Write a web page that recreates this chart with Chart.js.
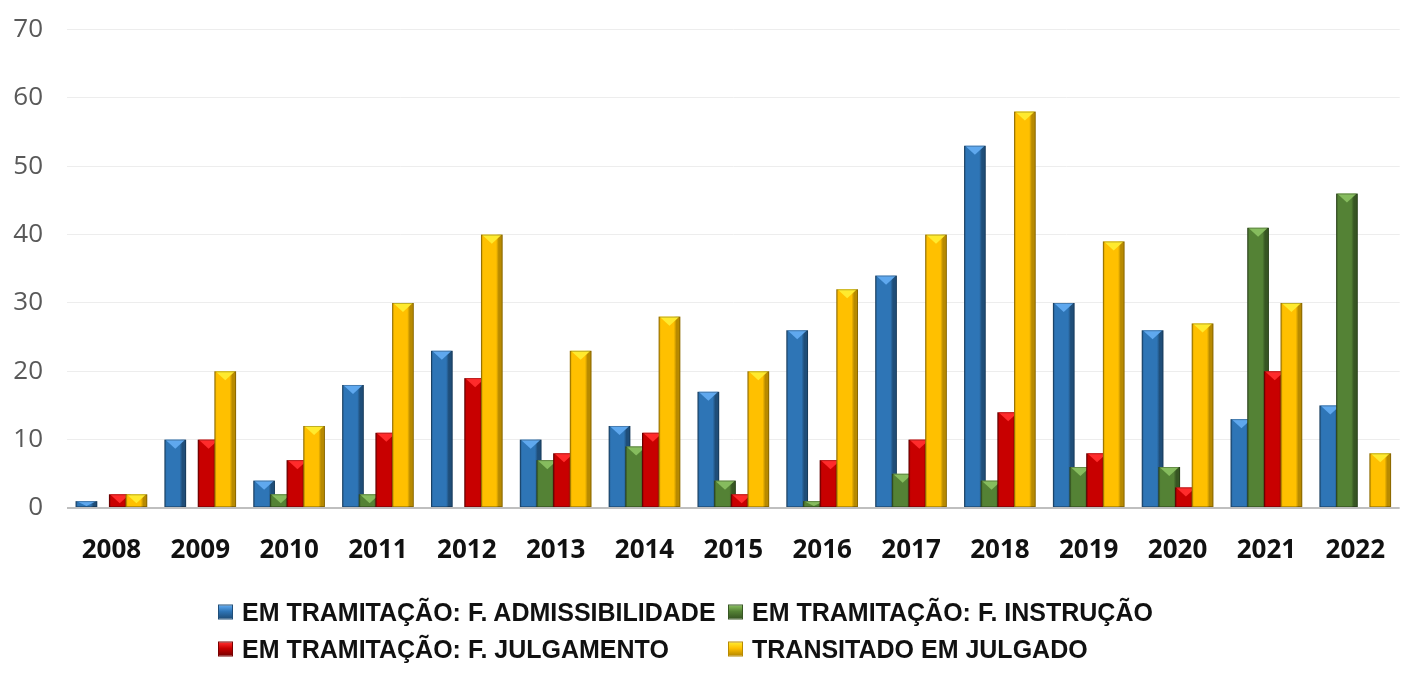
<!DOCTYPE html>
<html>
<head>
<meta charset="utf-8">
<script src="https://cdn.jsdelivr.net/npm/chart.js@4.4.1/dist/chart.umd.min.js"></script>
<style>
  html, body { margin:0; padding:0; background:#fff; width:1404px; height:677px; overflow:hidden; }
  #wrap { position:absolute; left:0; top:-10px; width:1412px; height:590px; }
  #legend { position:absolute; left:0; top:0; width:1404px; height:677px; pointer-events:none;
            font-family:"Liberation Sans Narrow","Liberation Sans",sans-serif; font-weight:bold; font-size:25px; color:#111; }
  .item { position:absolute; display:flex; align-items:center; white-space:nowrap; transform:translateY(-50%); }
  .sw { width:15px; height:15px; box-sizing:border-box; margin-right:9px; position:relative; overflow:hidden; }
</style>
</head>
<body>
<div id="wrap"><canvas id="c"></canvas></div>
<div id="legend"></div>
<script>
// ---- data ----
const categories = ['2008','2009','2010','2011','2012','2013','2014','2015','2016','2017','2018','2019','2020','2021','2022'];
const seriesNames = [
  'EM TRAMITAÇÃO: F. ADMISSIBILIDADE',
  'EM TRAMITAÇÃO: F. INSTRUÇÃO',
  'EM TRAMITAÇÃO: F. JULGAMENTO',
  'TRANSITADO EM JULGADO'
];
const admissibilidade = [1, 10, 4, 18, 23, 10, 12, 17, 26, 34, 53, 30, 26, 13, 15];
const instrucao       = [0, 0, 2, 2, 0, 7, 9, 4, 1, 5, 4, 6, 6, 41, 46];
const julgamento      = [2, 10, 7, 11, 19, 8, 11, 2, 7, 10, 14, 8, 3, 20, 0];
const transitado      = [2, 20, 12, 30, 40, 23, 28, 20, 32, 40, 58, 39, 27, 30, 8];
const yTicks = [0, 10, 20, 30, 40, 50, 60, 70];

// ---- styles ----
const baseColors  = ['#2E75B6', '#548235', '#C80000', '#FFC000'];
const lightColors = ['#5FA8EE', '#86BC5E', '#FF2B2B', '#FFEA2E'];
const darkColors  = ['#1F4E79', '#375623', '#7A0000', '#B88A00'];

const seriesValues = [admissibilidade, instrucao, julgamento, transitado];

const bevel = {
  id: 'bevel',
  beforeDatasetsDraw(chart) {
    const ctx = chart.ctx;
    const metas = chart.getSortedVisibleDatasetMetas().slice().sort((a, b) => a.index - b.index);
    ctx.save();
    metas.forEach(meta => {
      const i = meta.index;
      meta.data.forEach(el => {
        const p = el.getProps(['x', 'y', 'base', 'width'], true);
        const h = p.base - p.y;
        if (h < 0.5) return;
        const l = p.x - p.width / 2, r = p.x + p.width / 2;
        const g = ctx.createLinearGradient(l, 0, r, 0);
        g.addColorStop(0, darkColors[i]);
        g.addColorStop(0.1, baseColors[i]);
        g.addColorStop(0.7, baseColors[i]);
        g.addColorStop(0.82, darkColors[i]);
        g.addColorStop(1, darkColors[i]);
        ctx.fillStyle = g;
        ctx.fillRect(l, p.y, p.width, h);
        const th = Math.min(9, h * 0.85);
        ctx.beginPath();
        ctx.moveTo(l + 1, p.y);
        ctx.lineTo(r - 1, p.y);
        ctx.lineTo(p.x, p.y + th);
        ctx.closePath();
        ctx.fillStyle = lightColors[i];
        ctx.fill();
        ctx.strokeStyle = 'rgba(0,0,0,0.25)';
        ctx.lineWidth = 1;
        ctx.strokeRect(l + 0.5, p.y + 0.5, p.width - 1, h - 1);
      });
    });
    ctx.restore();
    return false;
  }
};

const datasets = seriesValues.map((vals, i) => ({
  label: seriesNames[i],
  data: vals,
  backgroundColor: baseColors[i],
  borderWidth: 0,
  categoryPercentage: 0.75,
  barPercentage: 1.3
}));

new Chart(document.getElementById('c'), {
  type: 'bar',
  data: { labels: categories, datasets },
  plugins: [bevel],
  options: {
    responsive: true,
    maintainAspectRatio: false,
    animation: false,
    events: [],
    layout: { padding: { top: 20, left: 0, right: 0, bottom: 0 } },
    plugins: { legend: { display: false }, tooltip: { enabled: false } },
    scales: {
      x: {
        grid: { display: false, drawTicks: false },
        border: { display: false },
        ticks: { color: '#111', padding: 27, font: { family: 'Open Sans', weight: 'bold', size: 26 } },
        afterFit(s) { s.height = 72; }
      },
      y: {
        min: 0, max: 70,
        afterBuildTicks(s) { s.ticks = yTicks.map(v => ({ value: v })); },
        ticks: { color: '#595959', padding: 24, font: { family: 'Open Sans', size: 26 } },
        grid: {
          drawTicks: false,
          color: c => (c.tick && c.tick.value === 0) ? '#BFBFBF' : '#EDEDED',
          lineWidth: c => (c.tick && c.tick.value === 0) ? 2 : 1
        },
        border: { display: false },
        afterFit(s) { s.width = 67; }
      }
    }
  }
});

// ---- legend (two aligned columns, two rows) ----
const legend = document.getElementById('legend');
const colLeft = [218, 728];
const rowY = [612, 649];
seriesNames.forEach((name, i) => {
  const item = document.createElement('div');
  item.className = 'item';
  item.style.left = colLeft[i % 2] + 'px';
  item.style.top = rowY[Math.floor(i / 2)] + 'px';
  const sw = document.createElement('div');
  sw.className = 'sw';
  sw.style.background = `linear-gradient(180deg, ${lightColors[i]} 0%, ${baseColors[i]} 45%, ${darkColors[i]} 100%)`;
  sw.style.border = '1px solid ' + darkColors[i];
  const tx = document.createElement('span');
  tx.textContent = name;
  item.appendChild(sw);
  item.appendChild(tx);
  legend.appendChild(item);
});
</script>
</body>
</html>
